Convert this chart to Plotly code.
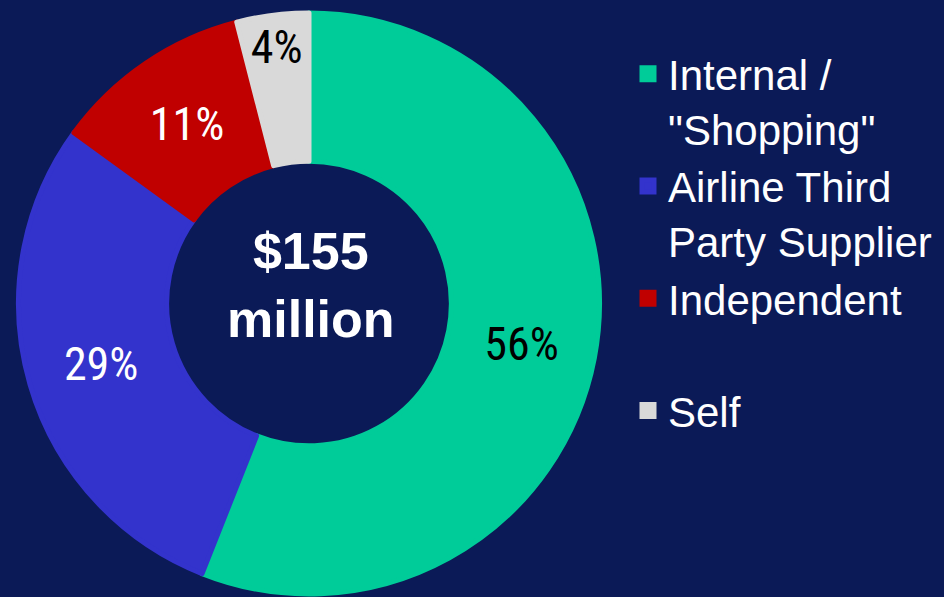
import plotly.graph_objects as go

categories = ['Internal /<br>"Shopping"', 'Airline Third<br>Party Supplier', 'Independent<br> ', 'Self']
values = [56, 29, 11, 4]
colors = ['#00cc99', '#3333cc', '#c00000', '#d9d9d9']
text_colors = ['#000000', '#ffffff', '#ffffff', '#000000']
center_text = '<b>$155<br>million</b>'

bg = '#0b1a57'

fig = go.Figure(go.Pie(
    labels=categories,
    values=values,
    hole=0.49,
    sort=False,
    direction='clockwise',
    rotation=0,
    marker=dict(colors=colors, line=dict(color=colors, width=5)),
    textinfo='percent',
    texttemplate='%{percent:.0%}',
    textposition='inside',
    insidetextorientation='horizontal',
    textfont=dict(family='Liberation Sans Narrow, Roboto Condensed, Arial Narrow, sans-serif', size=46, color=text_colors),
    domain=dict(x=[18/944, 600/944], y=[3/597, 584/597]),
))

fig.add_annotation(
    text=center_text, x=311/944, y=1-285/597, xref='paper', yref='paper',
    xanchor='center', yanchor='middle',
    showarrow=False, font=dict(family='Liberation Sans, Arial, sans-serif', size=52, color='white'),
)

fig.update_layout(
    width=944, height=597,
    margin=dict(l=0, r=0, t=0, b=0),
    paper_bgcolor=bg, plot_bgcolor=bg,
    showlegend=True,
    uniformtext=dict(minsize=46, mode='show'),
    legend=dict(
        x=628/944, y=1-40/597, xanchor='left', yanchor='top',
        font=dict(family='Liberation Sans, Arial, sans-serif', size=42, color='white'),
        valign='top', bgcolor='rgba(0,0,0,0)', traceorder='normal',
    ),
)

fig.write_html('out.html', config={'displayModeBar': False},
               post_script="document.body.style.margin='0';")
